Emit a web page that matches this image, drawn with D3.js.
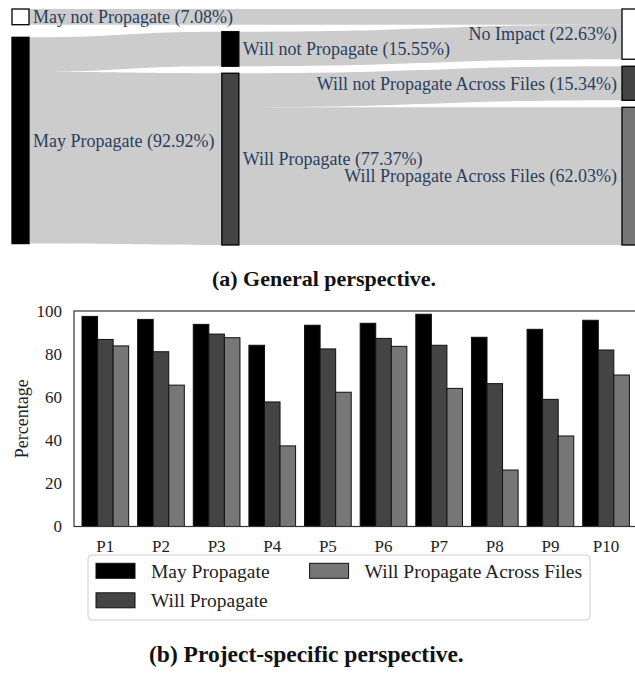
<!DOCTYPE html>
<html>
<head>
<meta charset="utf-8">
<script src="https://cdn.jsdelivr.net/npm/d3@7"></script>
<style>
  body { margin: 0; background: #fff; }
  svg { display: block; }
  text { font-family: "Liberation Serif", "Times New Roman", serif; }
</style>
</head>
<body>
<svg id="chart" width="635" height="673"></svg>
<script>
// ---- Sankey data (percent of all cases) ----
const nodeLabels = [
  "May not Propagate", "May Propagate",
  "Will not Propagate", "Will Propagate",
  "No Impact", "Will not Propagate Across Files", "Will Propagate Across Files"
];
const linkSource = [0, 1, 1, 2, 3, 3];
const linkTarget = [4, 2, 3, 4, 5, 6];
const linkValue  = [7.08, 15.55, 77.37, 15.55, 15.34, 62.03];

// ---- Per-project bar data (percent) ----
const projects = ["P1", "P2", "P3", "P4", "P5", "P6", "P7", "P8", "P9", "P10"];
const seriesNames = ["May Propagate", "Will Propagate", "Will Propagate Across Files"];
const mayPropagate = [97.5, 96.1, 93.8, 84.1, 93.4, 94.3, 98.5, 87.8, 91.5, 95.7];
const willPropagate = [86.8, 81.1, 89.3, 57.8, 82.4, 87.3, 84.1, 66.3, 59.0, 81.9];
const willPropagateAcrossFiles = [83.8, 65.6, 87.6, 37.4, 62.3, 83.6, 64.1, 26.2, 42.0, 70.3];
const yTicks = [0, 20, 40, 60, 80, 100];

// ---- styles ----
const nodeFill = ["#ffffff", "#000000", "#000000", "#444444", "#ffffff", "#444444", "#777777"];
const seriesFill = ["#000000", "#444444", "#777777"];
const labelColor = "#2a3f5f";
const columnPos = [0, 0.344, 1];

const svg = d3.select("#chart");

// =================== Sankey (a) ===================
(function drawSankey() {
  const x0 = 12, x1 = 639, y0 = 9, y1 = 245;
  const nodeWidth = 17, py = 7, iterations = 6;

  const nodes = nodeLabels.map((name, i) => ({ index: i, name, sourceLinks: [], targetLinks: [] }));
  const links = linkValue.map((v, i) => ({ index: i, source: nodes[linkSource[i]], target: nodes[linkTarget[i]], value: v }));
  links.forEach(l => { l.source.sourceLinks.push(l); l.target.targetLinks.push(l); });
  nodes.forEach(n => {
    n.value = Math.max(d3.sum(n.sourceLinks, l => l.value), d3.sum(n.targetLinks, l => l.value));
  });

  // depth by longest path, justified so sinks sit in the last column
  let current = new Set(nodes), depth = 0;
  while (current.size) {
    const next = new Set();
    current.forEach(n => { n.depth = depth; n.sourceLinks.forEach(l => next.add(l.target)); });
    current = next; depth++;
  }
  const nCols = depth;
  nodes.forEach(n => { n.layer = n.sourceLinks.length ? n.depth : nCols - 1; });

  const xCol = d3.scaleLinear().domain([0, 1]).range([x0, x1 - nodeWidth]);
  nodes.forEach(n => { n.x0 = xCol(columnPos[n.layer]); n.x1 = n.x0 + nodeWidth; });

  // node order inside each column follows the input order
  const columns = d3.range(nCols).map(k => nodes.filter(n => n.layer === k));

  // vertical value scale shared by all columns
  const ky = d3.min(columns, c => (y1 - y0 - (c.length - 1) * py) / d3.sum(c, n => n.value));
  const vScale = d3.scaleLinear().domain([0, 1]).range([0, ky]);

  const ascBreadth = (a, b) => a.y0 - b.y0;
  function reorderNodeLinks(n) {
    n.sourceLinks.sort((a, b) => ascBreadth(a.target, b.target) || a.index - b.index);
    n.targetLinks.sort((a, b) => ascBreadth(a.source, b.source) || a.index - b.index);
  }
  links.forEach(l => { l.width = vScale(l.value); });

  columns.forEach(col => {
    let y = y0;
    col.forEach(n => { n.y0 = y; n.y1 = y + vScale(n.value); y = n.y1 + py; });
    const s = (y1 - y + py) / (col.length + 1);
    col.forEach((n, i) => { n.y0 += s * (i + 1); n.y1 += s * (i + 1); });
  });
  nodes.forEach(reorderNodeLinks);

  // ideal source.y0 for a straight link source -> target
  function sourceTop(source, target) {
    let y = target.y0 - (target.targetLinks.length - 1) * py / 2;
    for (const l of target.targetLinks) { if (l.source === source) break; y += l.width + py; }
    for (const l of source.sourceLinks) { if (l.target === target) break; y -= l.width; }
    return y;
  }
  // ideal target.y0 for a straight link source -> target
  function targetTop(source, target) {
    let y = source.y0 - (source.sourceLinks.length - 1) * py / 2;
    for (const l of source.sourceLinks) { if (l.target === target) break; y += l.width + py; }
    for (const l of target.targetLinks) { if (l.source === source) break; y -= l.width; }
    return y;
  }
  function topToBottom(col, y, i, a) {
    for (; i < col.length; ++i) {
      const n = col[i], d = (y - n.y0) * a;
      if (d > 1e-6) { n.y0 += d; n.y1 += d; }
      y = n.y1 + py;
    }
  }
  function bottomToTop(col, y, i, a) {
    for (; i >= 0; --i) {
      const n = col[i], d = (n.y1 - y) * a;
      if (d > 1e-6) { n.y0 -= d; n.y1 -= d; }
      y = n.y0 - py;
    }
  }
  function resolveCollisions(col, a) {
    const i = col.length >> 1, s = col[i];
    bottomToTop(col, s.y0 - py, i - 1, a);
    topToBottom(col, s.y1 + py, i + 1, a);
    bottomToTop(col, y1, col.length - 1, a);
    topToBottom(col, y0, 0, a);
  }
  for (let it = 0; it < iterations; ++it) {
    const alpha = Math.pow(0.99, it);
    const beta = Math.max(1 - alpha, (it + 1) / iterations);
    for (let c = nCols - 2; c >= 0; --c) {
      for (const src of columns[c]) {
        let y = 0, w = 0;
        for (const l of src.sourceLinks) {
          const v = l.value * (l.target.layer - src.layer);
          y += sourceTop(src, l.target) * v; w += v;
        }
        if (!(w > 0)) continue;
        const d = (y / w - src.y0) * alpha;
        src.y0 += d; src.y1 += d; reorderNodeLinks(src);
      }
      resolveCollisions(columns[c], beta);
    }
    for (let c = 1; c < nCols; ++c) {
      for (const tgt of columns[c]) {
        let y = 0, w = 0;
        for (const l of tgt.targetLinks) {
          const v = l.value * (tgt.layer - l.source.layer);
          y += targetTop(l.source, tgt) * v; w += v;
        }
        if (!(w > 0)) continue;
        const d = (y / w - tgt.y0) * alpha;
        tgt.y0 += d; tgt.y1 += d; reorderNodeLinks(tgt);
      }
      resolveCollisions(columns[c], beta);
    }
  }
  nodes.forEach(reorderNodeLinks);
  nodes.forEach(n => {
    let a = n.y0, b = n.y0;
    n.sourceLinks.forEach(l => { l.sy0 = a; a += l.width; l.sy1 = a; });
    n.targetLinks.forEach(l => { l.ty0 = b; b += l.width; l.ty1 = b; });
  });

  const g = svg.append("g").attr("class", "sankey");

  const ribbon = l => {
    const xa = l.source.x1, xb = l.target.x0, xm = (xa + xb) / 2;
    return `M${xa},${l.sy0}C${xm},${l.sy0} ${xm},${l.ty0} ${xb},${l.ty0}` +
           `L${xb},${l.ty1}C${xm},${l.ty1} ${xm},${l.sy1} ${xa},${l.sy1}Z`;
  };
  g.append("g").selectAll("path").data(links).join("path")
    .attr("d", ribbon)
    .attr("fill", "rgba(0,0,0,0.2)");

  g.append("g").selectAll("rect").data(nodes).join("rect")
    .attr("x", d => d.x0).attr("y", d => d.y0)
    .attr("width", d => d.x1 - d.x0).attr("height", d => d.y1 - d.y0)
    .attr("fill", d => nodeFill[d.index])
    .attr("stroke", "#000").attr("stroke-width", 1.3);

  g.append("g").selectAll("text").data(nodes).join("text")
    .attr("x", d => d.layer === nCols - 1 ? d.x0 - 5 : d.x1 + 4)
    .attr("y", d => (d.y0 + d.y1) / 2)
    .attr("dy", "0.35em")
    .attr("text-anchor", d => d.layer === nCols - 1 ? "end" : "start")
    .attr("fill", labelColor)
    .style("font-size", "18px")
    .text(d => `${d.name} (${d.value.toFixed(2)}%)`);

  svg.append("text")
    .attr("x", 324).attr("y", 286)
    .attr("text-anchor", "middle")
    .style("font-size", "22px").style("font-weight", "bold").attr("fill", "#111")
    .text("(a) General perspective.");
})();

// =================== Grouped bars (b) ===================
(function drawBars() {
  const left = 74, right = 637.4, top = 311, bottom = 526.5;
  const series = [mayPropagate, willPropagate, willPropagateAcrossFiles];

  const x = d3.scaleBand().domain(projects).range([left, right])
    .paddingInner(0.161).paddingOuter(0.144);
  const xs = d3.scaleBand().domain(d3.range(series.length)).range([0, x.bandwidth()]);
  const y = d3.scaleLinear().domain([0, 100]).range([bottom, top]);

  const g = svg.append("g").attr("class", "bars");

  g.append("g").selectAll("g").data(projects).join("g")
    .attr("transform", p => `translate(${x(p)},0)`)
    .selectAll("rect")
    .data((p, i) => series.map((s, k) => ({ k, v: s[i] })))
    .join("rect")
    .attr("x", d => xs(d.k)).attr("width", xs.bandwidth())
    .attr("y", d => y(d.v)).attr("height", d => y(0) - y(d.v))
    .attr("fill", d => seriesFill[d.k])
    .attr("stroke", "#111").attr("stroke-width", 1);

  // frame
  g.append("rect")
    .attr("x", left).attr("y", top)
    .attr("width", right - left).attr("height", bottom - top)
    .attr("fill", "none").attr("stroke", "#333").attr("stroke-width", 1.2);

  const yAxis = g.append("g").attr("transform", `translate(${left},0)`)
    .call(d3.axisLeft(y).tickValues(yTicks).tickSize(0).tickPadding(12));
  const xAxis = g.append("g").attr("transform", `translate(0,${bottom})`)
    .call(d3.axisBottom(x).tickSize(0).tickPadding(13.5));
  [yAxis, xAxis].forEach(a => {
    a.attr("font-family", null);
    a.select(".domain").remove();
    a.selectAll("text").attr("fill", "#222").style("font-size", "17px");
  });

  g.append("text")
    .attr("transform", `translate(22,${(top + bottom) / 2}) rotate(-90)`)
    .attr("text-anchor", "middle").attr("dy", "0.35em")
    .attr("fill", "#222").style("font-size", "18px")
    .text("Percentage");

  // legend, filled column by column (two rows)
  const lg = g.append("g").attr("transform", "translate(88,555)");
  lg.append("rect").attr("width", 502).attr("height", 65).attr("rx", 4)
    .attr("fill", "#fff").attr("stroke", "#cfcfcf").attr("stroke-width", 1);
  const items = lg.selectAll("g.item").data(seriesNames).join("g")
    .attr("class", "item")
    .attr("transform", (d, i) => `translate(${8 + Math.floor(i / 2) * 213.6},${8.3 + (i % 2) * 29.5})`);
  items.append("rect").attr("width", 39).attr("height", 15)
    .attr("fill", (d, i) => seriesFill[i]).attr("stroke", "#111").attr("stroke-width", 1);
  items.append("text").attr("x", 55).attr("y", 7.5).attr("dy", "0.35em")
    .attr("fill", "#222").style("font-size", "19.5px").text(d => d);

  svg.append("text")
    .attr("x", 149).attr("y", 662)
    .attr("text-anchor", "start")
    .style("font-size", "23.5px").style("font-weight", "bold").attr("fill", "#111")
    .text("(b) Project-specific perspective.");
})();
</script>
</body>
</html>
